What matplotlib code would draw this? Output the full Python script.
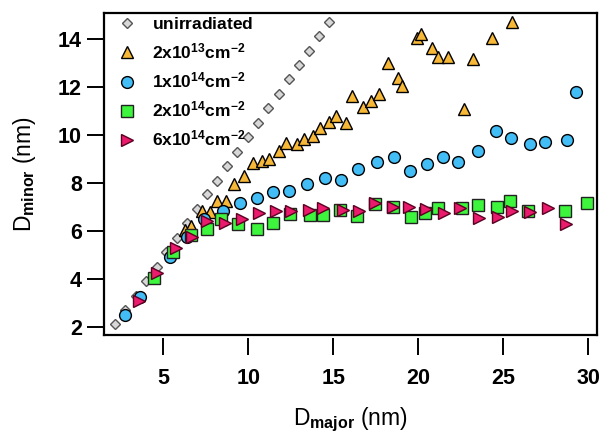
import matplotlib
matplotlib.use('Agg')
import matplotlib.pyplot as plt

plt.rcParams['font.family'] = ['Liberation Sans', 'DejaVu Sans']
plt.rcParams['mathtext.fontset'] = 'custom'
plt.rcParams['mathtext.rm'] = 'Liberation Sans'
plt.rcParams['mathtext.bf'] = 'Liberation Sans:bold'

# unirradiated
x_unirr = [2.16, 2.75, 3.39, 3.98, 4.61, 5.14, 5.79, 6.38, 6.96, 7.55, 8.18, 8.76,
           9.35, 9.96, 10.59, 11.18, 11.81, 12.38, 13.0, 13.59, 14.18, 14.76]
y_unirr = [2.10, 2.70, 3.29, 3.90, 4.50, 5.10, 5.68, 6.31, 6.90, 7.52, 8.08, 8.71,
           9.29, 9.92, 10.50, 11.10, 11.70, 12.31, 12.89, 13.5, 14.11, 14.70]

# 2x10^13 cm^-2
x_2e13 = [6.28, 6.61, 7.26, 7.75, 8.18, 8.69, 9.18, 9.75, 10.26, 10.79, 11.22, 11.81,
          12.2, 12.85, 13.26, 13.82, 14.22, 14.75, 15.16, 15.75, 16.13, 16.76, 17.2,
          17.71, 18.2, 18.82, 19.02, 19.91, 20.14, 20.82, 21.14, 21.73, 22.67, 23.24,
          24.34, 25.49]
y_2e13 = [6.03, 6.20, 6.83, 6.79, 7.25, 7.25, 7.95, 8.29, 8.81, 8.92, 8.98, 9.33,
          9.64, 9.61, 9.81, 9.96, 10.29, 10.54, 10.78, 10.48, 11.62, 11.17, 11.42,
          11.70, 12.98, 12.35, 12.03, 14.04, 14.18, 13.63, 13.23, 13.23, 11.06, 13.14,
          14.04, 14.71]

# 1x10^14 cm^-2
x_1e14 = [2.75, 3.63, 5.39, 6.41, 7.39, 8.49, 9.51, 10.49, 11.47, 12.41, 13.47, 14.53,
          15.45, 16.47, 17.55, 18.57, 19.51, 20.49, 21.44, 22.32, 23.49, 24.57, 25.47,
          26.57, 27.44, 28.75, 29.28]
y_1e14 = [2.49, 3.25, 4.89, 5.75, 6.48, 6.82, 7.17, 7.38, 7.59, 7.64, 7.96, 8.18,
          8.13, 8.57, 8.88, 9.06, 8.49, 8.78, 9.06, 8.85, 9.33, 10.17, 9.88,
          9.60, 9.68, 9.78, 11.78]

# 2x10^14 cm^-2
x_2e14 = [4.45, 5.55, 6.61, 7.55, 8.38, 9.38, 10.49, 11.44, 12.47, 13.63, 14.38, 15.39,
          16.42, 17.45, 18.53, 19.55, 20.39, 21.18, 22.55, 23.53, 24.61, 25.39, 26.47,
          28.63, 29.94]
y_2e14 = [4.02, 5.13, 5.82, 6.06, 6.48, 6.28, 6.06, 6.33, 6.70, 6.65, 6.65, 6.86,
          6.60, 7.11, 6.98, 6.56, 6.73, 6.96, 6.93, 7.07, 7.00, 7.25, 6.83,
          6.83, 7.17]

# 6x10^14 cm^-2
x_6e14 = [3.59, 4.65, 5.75, 6.67, 7.59, 8.63, 9.65, 10.63, 11.61, 12.51, 13.59, 14.38,
          15.55, 16.5, 17.45, 18.53, 19.47, 20.45, 21.51, 22.45, 23.59, 24.67, 25.49,
          26.57, 27.65, 28.69]
y_6e14 = [3.07, 4.25, 5.27, 5.73, 6.42, 6.31, 6.49, 6.73, 6.82, 6.82, 6.86, 6.96,
          6.86, 6.83, 7.14, 6.98, 7.00, 6.90, 6.73, 6.96, 6.52, 6.56, 6.83,
          6.79, 6.96, 6.27]

labels = [r'$\mathbf{unirradiated}$',
          r'$\mathbf{2x10^{13}cm^{-2}}$',
          r'$\mathbf{1x10^{14}cm^{-2}}$',
          r'$\mathbf{2x10^{14}cm^{-2}}$',
          r'$\mathbf{6x10^{14}cm^{-2}}$']

fig = plt.figure(figsize=(6.06, 4.33), dpi=100)
ax = fig.add_axes([0.1716, 0.2263, 0.8134, 0.7437])

ax.plot(x_unirr, y_unirr, 'D', ms=5.5, mfc='#d8d8d8', mec='#555555', mew=1.0, label=labels[0])
ax.plot(x_2e13, y_2e13, '^', ms=8.5, mfc='#f7b838', mec='black', mew=1.0, label=labels[1])
ax.plot(x_1e14, y_1e14, 'o', ms=8.5, mfc='#42bdf5', mec='black', mew=1.0, label=labels[2])
ax.plot(x_2e14, y_2e14, 's', ms=8, mfc='#3ef53e', mec='#222222', mew=1.0, label=labels[3])
ax.plot(x_6e14, y_6e14, '>', ms=8.5, mfc='#ea1a6c', mec='#5a0020', mew=1.0, label=labels[4])

ax.set_xlim(1.51, 30.51)
ax.set_ylim(1.65, 15.07)
ax.set_xticks([5, 10, 15, 20, 25, 30])
ax.set_yticks([2, 4, 6, 8, 10, 12, 14])

for sp in ax.spines.values():
    sp.set_linewidth(1.6)
# x ticks sit a little below the frame
ax.spines['bottom'].set_position(('outward', 2))
ax.spines['bottom'].set_color('none')
ax.plot([0, 1], [0, 0], color='black', lw=1.6, transform=ax.transAxes,
        clip_on=False, solid_capstyle='projecting')

ax.tick_params(direction='out', length=12, width=1.4, labelsize=15.5)
ax.tick_params(axis='x', pad=10)
ax.tick_params(axis='y', pad=4)
for lbl in ax.get_xticklabels() + ax.get_yticklabels():
    lbl.set_fontweight('bold')

ax.set_xlabel(r'D$_{\mathbf{major}}$ (nm)', fontsize=16.5, labelpad=12)
ax.set_ylabel(r'D$_{\mathbf{minor}}$ (nm)', fontsize=16.5, labelpad=14)

ax.legend(loc='upper left', frameon=False, fontsize=12.5, handletextpad=0.34,
          borderaxespad=0.1, labelspacing=0.53, handlelength=2.2,
          borderpad=0.1)

fig.savefig('out.png', dpi=100)
